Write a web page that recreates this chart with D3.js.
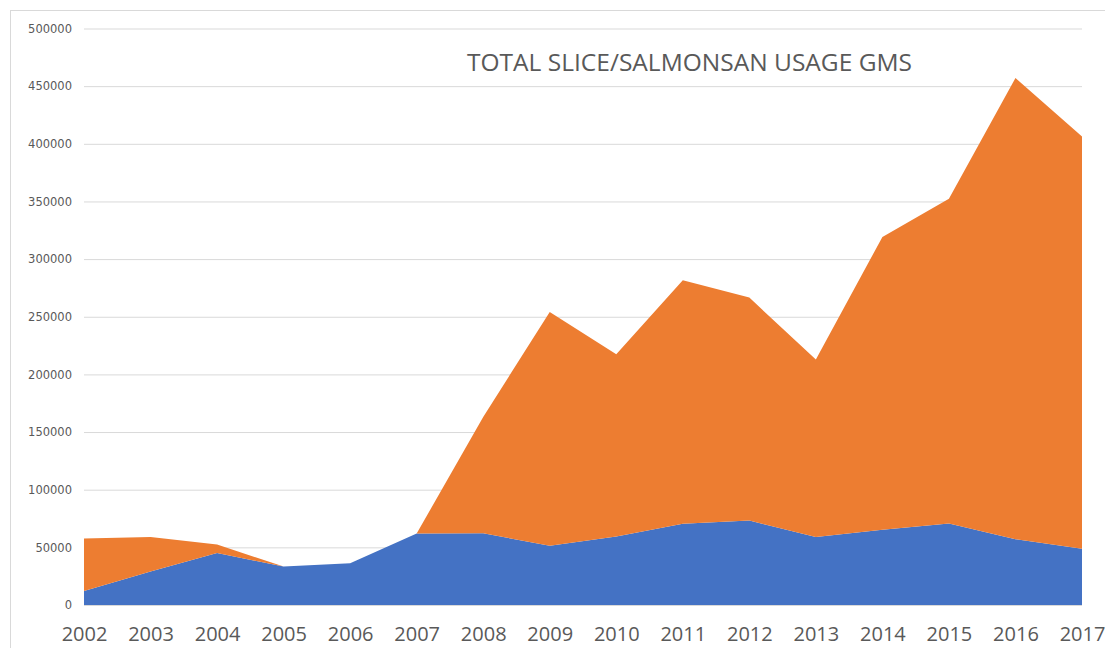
<!DOCTYPE html>
<html>
<head>
<meta charset="utf-8">
<script src="https://cdn.jsdelivr.net/npm/d3@7"></script>
<style>
  body { margin: 0; background: #fff; }
  svg { display: block; }
</style>
</head>
<body>
<div id="chart"></div>
<script>
// Data
var years = [2002, 2003, 2004, 2005, 2006, 2007, 2008, 2009, 2010, 2011, 2012, 2013, 2014, 2015, 2016, 2017]
var slice = [12200, 29000, 45000, 33300, 36200, 62000, 62300, 51300, 59400, 70400, 73300, 58900, 65200, 70700, 57100, 48700]
var salmonsan = [45400, 29900, 7400, 0, 0, 0, 100700, 202900, 158100, 211200, 193300, 154000, 254000, 281700, 399900, 357700]
var yTicks = [0, 50000, 100000, 150000, 200000, 250000, 300000, 350000, 400000, 450000, 500000]
var title = 'TOTAL SLICE/SALMONSAN USAGE GMS'

var width = 1105
var height = 648
var margin = { top: 28.5, right: 23, bottom: 43, left: 84 }
var chartWidth = width - margin.left - margin.right
var chartHeight = height - margin.top - margin.bottom

var colors = { slice: '#4472C4', salmonsan: '#ED7D31' }

var svg = d3.select('#chart').append('svg')
  .attr('width', width)
  .attr('height', height)

// Chart frame (cut off at right and bottom like the screenshot)
svg.append('rect')
  .attr('x', 10.5)
  .attr('y', 10.5)
  .attr('width', width)
  .attr('height', height)
  .attr('fill', 'none')
  .attr('stroke', '#d9d9d9')

var g = svg.append('g')
  .attr('transform', 'translate(' + margin.left + ',' + margin.top + ')')

// Scales
var xScale = d3.scaleLinear()
  .domain(d3.extent(years))
  .range([0, chartWidth])

var yScale = d3.scaleLinear()
  .domain([0, 500000])
  .range([chartHeight, 0])

// Gridlines + y labels
var yAxis = g.append('g')
  .attr('class', 'y-axis')
  .call(d3.axisLeft(yScale)
    .tickValues(yTicks)
    .tickSize(-chartWidth)
    .tickPadding(12)
    .tickFormat(d3.format('d')))

yAxis.select('.domain').remove()
yAxis.selectAll('.tick line')
  .attr('stroke', '#d9d9d9')
  .attr('stroke-width', 1)
yAxis.selectAll('.tick text')
  .attr('fill', '#595959')
  .attr('font-family', 'DejaVu Sans, sans-serif')
  .attr('font-size', '11.5px')

// Stacked areas
var table = years.map(function (y, i) {
  return { year: y, slice: slice[i], salmonsan: salmonsan[i] }
})

var stack = d3.stack().keys(['slice', 'salmonsan'])
var series = stack(table)

var area = d3.area()
  .x(function (d) { return xScale(d.data.year) })
  .y0(function (d) { return yScale(d[0]) })
  .y1(function (d) { return yScale(d[1]) })

g.selectAll('.layer')
  .data(series)
  .enter().append('path')
  .attr('class', 'layer')
  .attr('d', area)
  .attr('fill', function (d) { return colors[d.key] })

// Horizontal axis line
g.append('line')
  .attr('x1', 0)
  .attr('x2', chartWidth)
  .attr('y1', chartHeight + 0.5)
  .attr('y2', chartHeight + 0.5)
  .attr('stroke', '#d9d9d9')

// X labels
var xAxis = g.append('g')
  .attr('transform', 'translate(0,' + chartHeight + ')')
  .call(d3.axisBottom(xScale)
    .tickValues(years)
    .tickSize(0)
    .tickPadding(22)
    .tickFormat(d3.format('d')))

xAxis.select('.domain').remove()
xAxis.selectAll('.tick text')
  .attr('fill', '#595959')
  .attr('font-family', 'Open Sans, sans-serif')
  .attr('font-size', '20px')

// Title
svg.append('text')
  .attr('x', 467)
  .attr('y', 71)
  .attr('fill', '#595959')
  .attr('font-family', 'Open Sans, sans-serif')
  .attr('font-size', '24px')
  .attr('textLength', 445)
  .attr('lengthAdjust', 'spacingAndGlyphs')
  .text(title)
</script>
</body>
</html>
